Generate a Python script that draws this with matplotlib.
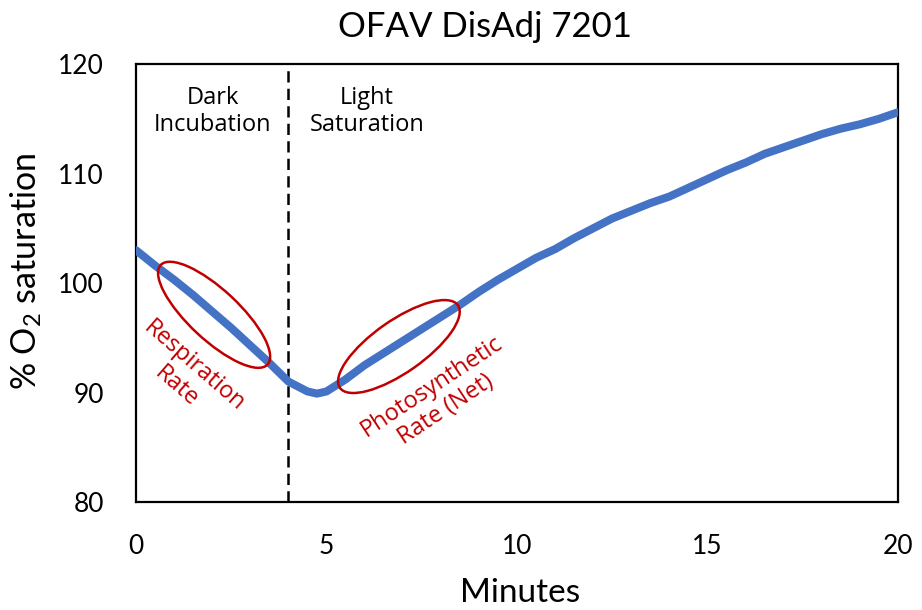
import matplotlib
matplotlib.use("Agg")
import matplotlib.pyplot as plt
from matplotlib.patches import Ellipse
from matplotlib.transforms import Affine2D, ScaledTranslation

plt.rcParams["font.family"] = ["Lato", "DejaVu Sans"]
plt.rcParams["mathtext.fontset"] = "custom"
plt.rcParams["mathtext.rm"] = "Lato"

COLOR_LINE = "#4472C4"
COLOR_RED = "#C00000"
NOTE_FONT = ["Open Sans", "DejaVu Sans"]

TITLE = "OFAV DisAdj 7201"
X_LABEL = "Minutes"
Y_LABEL = r"% O$_\mathregular{2}$ saturation"

# O2 saturation, roughly every half minute
minutes = [0, 0.5, 1.0, 1.5, 2.0, 2.5, 3.0, 3.5, 4.0, 4.5, 4.75, 5.0, 5.5,
           6.0, 6.5, 7.0, 7.5, 8.0, 8.5, 9.0, 9.5, 10.0, 10.5, 11.0, 11.5,
           12.0, 12.5, 13.0, 13.5, 14.0, 14.5, 15.0, 15.5, 16.0, 16.5, 17.0,
           17.5, 18.0, 18.5, 19.0, 19.5, 20.0]
o2_sat = [103.0, 101.6, 100.3, 98.9, 97.4, 95.9, 94.3, 92.7, 91.0, 90.1, 89.9,
          90.1, 91.2, 92.5, 93.6, 94.7, 95.8, 96.9, 98.0, 99.2, 100.3, 101.3,
          102.3, 103.1, 104.1, 105.0, 105.9, 106.6, 107.3, 107.9, 108.7, 109.5,
          110.3, 111.0, 111.8, 112.4, 113.0, 113.6, 114.1, 114.5, 115.0, 115.6]

x_ticks = [0, 5, 10, 15, 20]
y_ticks = [80, 90, 100, 110, 120]
light_on = 4

fig = plt.figure(figsize=(9.22, 6.10), dpi=100)
ax = fig.add_axes([0.1475, 0.177, 0.8265, 0.718])

ax.plot(minutes, o2_sat, color=COLOR_LINE, linewidth=5.8, solid_capstyle="round", zorder=3)
ax.axvline(light_on, color="black", linestyle=(0, (4.5, 2.5)), linewidth=1.8, zorder=2)

ax.set_xlim(0, 20)
ax.set_ylim(80, 120)
ax.set_xticks(x_ticks)
ax.set_yticks(y_ticks)
ax.tick_params(length=0, labelsize=19)
ax.tick_params(axis="y", pad=23)
ax.tick_params(axis="x", pad=23)
for s in ax.spines.values():
    s.set_linewidth(1.6)

fig.text(520 / 922, 1 - 602 / 610, X_LABEL, ha="center", va="baseline", fontsize=24)
fig.text(26 / 922, 1 - 271 / 610, Y_LABEL, ha="center", va="center", fontsize=24.5,
         rotation=90)
fig.text(485 / 922, 1 - 37 / 610, TITLE, ha="center", va="baseline", fontsize=25)

# phase labels
ax.text(2.02, 115.66, "Dark\nIncubation", ha="center", va="center", fontsize=17,
        family=NOTE_FONT, linespacing=1.2)
ax.text(6.06, 115.66, "Light\nSaturation", ha="center", va="center", fontsize=17,
        family=NOTE_FONT, linespacing=1.2)

# red ellipses, sized in pixels around a data point
def pixel_ellipse(cx, cy, w, h, angle):
    tr = Affine2D() + ScaledTranslation(cx, cy, ax.transData)
    e = Ellipse((0, 0), w, h, angle=angle, transform=tr, fill=False,
                edgecolor=COLOR_RED, linewidth=1.8, zorder=4)
    ax.add_patch(e)

pixel_ellipse(2.05, 97.1, 146, 50, -43)
pixel_ellipse(6.9, 94.2, 144, 52, 35)

ax.text(1.30, 91.5, "Respiration\nRate", ha="center", va="center", fontsize=17,
        family=NOTE_FONT, color=COLOR_RED, rotation=-41, rotation_mode="anchor",
        linespacing=1.15)
ax.text(7.95, 89.5, "Photosynthetic\nRate (Net)", ha="center", va="center",
        fontsize=17, family=NOTE_FONT, color=COLOR_RED, rotation=33.5,
        rotation_mode="anchor", linespacing=1.15)

fig.savefig("out.png", dpi=100)
plt.close(fig)
